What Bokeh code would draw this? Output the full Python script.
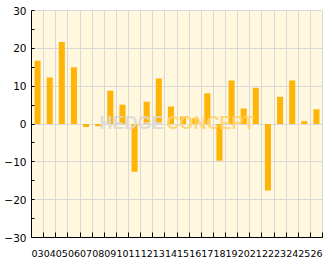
from bokeh.plotting import figure
from bokeh.models import FixedTicker, Label, ColumnDataSource
from bokeh.embed import file_html
from bokeh.resources import INLINE

categories = ["03", "04", "05", "06", "07", "08", "09", "10", "11", "12", "13", "14",
              "15", "16", "17", "18", "19", "20", "21", "22", "23", "24", "25", "26"]
values = [16.7, 12.3, 21.7, 15.0, -0.8, -0.6, 8.8, 5.1, -12.6, 5.9, 12.0, 4.6,
          2.0, 1.5, 8.1, -9.7, 11.5, 4.1, 9.6, -17.6, 7.2, 11.5, 0.7, 3.9]
y_ticks = [-30, -20, -10, 0, 10, 20, 30]
y_minor = [-25, -15, -5, 5, 15, 25]

n = len(categories)
centers = [i + 0.5 for i in range(n)]
bounds = list(range(n + 1))

p = figure(width=332, height=269, x_range=(0, n), y_range=(-30, 30),
           output_backend="svg", toolbar_location=None,
           min_border_left=31, min_border_right=10, min_border_top=10, min_border_bottom=32)
p.border_fill_color = "white"
p.outline_line_color = "#d9d9d9"
p.background_fill_color = "#fff7de"

src = ColumnDataSource(dict(x=centers, top=values))
p.vbar(x="x", top="top", bottom=0, width=0.5, source=src, fill_color="#ffb508", line_color=None)

# x axis
p.xaxis.ticker = FixedTicker(ticks=centers, minor_ticks=bounds)
p.xaxis.major_label_overrides = {c: lab for c, lab in zip(centers, categories)}
p.xaxis.major_tick_line_color = None
p.xaxis.minor_tick_in = 5
p.xaxis.minor_tick_out = 0
p.xaxis.minor_tick_line_color = "black"
p.xaxis.axis_line_color = "black"
p.xaxis.major_label_text_font = "DejaVu Sans"
p.xaxis.major_label_text_font_size = "9.5px"
p.xaxis.major_label_text_color = "black"
p.xaxis.major_label_standoff = 6
p.xgrid.ticker = FixedTicker(ticks=bounds)
p.xgrid.grid_line_color = "#d9d9d9"

# y axis
p.yaxis.ticker = FixedTicker(ticks=y_ticks, minor_ticks=y_minor)
p.yaxis.major_tick_in = 3
p.yaxis.major_tick_out = 0
p.yaxis.minor_tick_in = 3
p.yaxis.minor_tick_out = 0
p.yaxis.major_tick_line_color = "black"
p.yaxis.minor_tick_line_color = "black"
p.yaxis.axis_line_color = "black"
p.yaxis.major_label_text_font = "DejaVu Sans"
p.yaxis.major_label_text_font_size = "10.5px"
p.yaxis.major_label_text_color = "black"
p.yaxis.major_label_standoff = 5
p.ygrid.ticker = FixedTicker(ticks=y_ticks)
p.ygrid.grid_line_color = "#d9d9d9"

# watermark
p.add_layout(Label(x=5.6, y=-2.4, text="HEDGE", text_font="Liberation Sans",
                   text_font_style="bold", text_font_size="18px",
                   text_color="#dcd9d2", text_alpha=0.9))
p.add_layout(Label(x=11.13, y=-2.4, text="CONCEPT", text_font="Liberation Sans",
                   text_font_style="bold", text_font_size="18px",
                   text_color="#ffd36e", text_alpha=0.9))

open("out.html", "w").write(file_html(p, INLINE))
